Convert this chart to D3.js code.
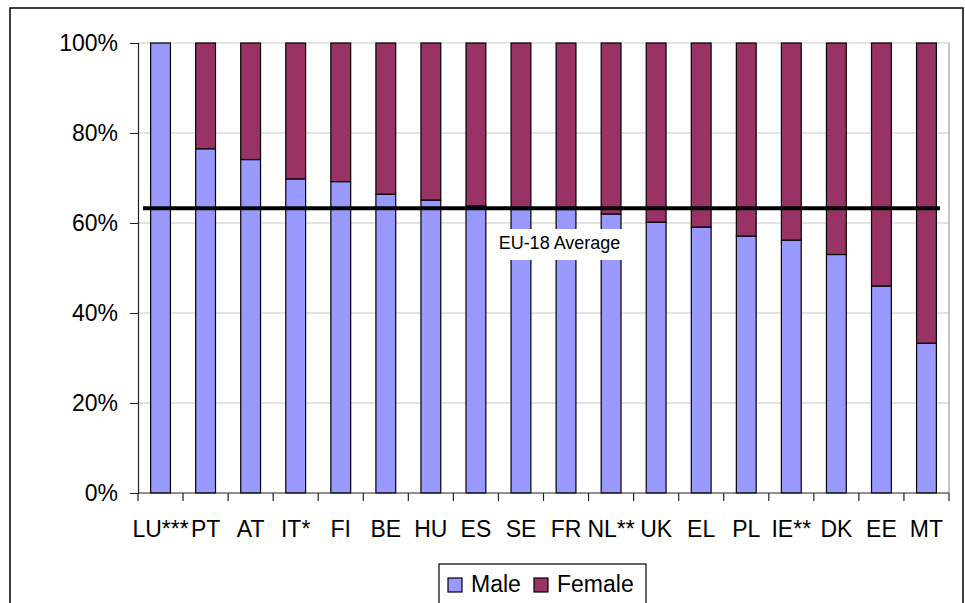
<!DOCTYPE html>
<html><head><meta charset="utf-8">
<script src="https://cdn.jsdelivr.net/npm/d3@7"></script>
<style>body{margin:0;background:#fff;}svg{display:block;font-family:Arial,"Liberation Sans",sans-serif;}</style>
</head><body>
<script>
const categories = ["LU***","PT","AT","IT*","FI","BE","HU","ES","SE","FR","NL**","UK","EL","PL","IE**","DK","EE","MT"];
const maleShare = [100,76.5,74.1,69.8,69.2,66.4,65.1,63.8,63.0,63.0,62.0,60.2,59.1,57.1,56.2,53.0,46.0,33.3];
const femaleShare = maleShare.map(v => 100 - v);
const yTicks = [0,20,40,60,80,100];
const euAverage = 63.3;
const seriesNames = ["Male","Female"];
const colors = {Male:"#9999FF", Female:"#993366"};

(function(){
const W = 965, H = 603;
const svg = d3.select("body").append("svg").attr("width",W).attr("height",H);
svg.append("rect").attr("x",10).attr("y",8).attr("width",953).attr("height",610)
  .attr("fill","#fff").attr("stroke","#000").attr("stroke-width",1.5);

const pL=138, pR=949, pT=43, pB=493;
const x = d3.scaleBand().domain(categories).range([pL,pR]).paddingInner(0.56).paddingOuter(0.28);
const xb = d3.scaleBand().domain(categories).range([pL,pR]);
const y = d3.scaleLinear().domain([0,100]).range([pB,pT]);

// gridlines
svg.append("g").selectAll("line").data(yTicks.filter(d=>d>0)).join("line")
  .attr("x1",pL).attr("x2",pR).attr("y1",d=>y(d)).attr("y2",d=>y(d))
  .attr("stroke","#c8c8c8").attr("stroke-width",1.2);
svg.append("line").attr("x1",pR).attr("x2",pR).attr("y1",pT).attr("y2",pB)
  .attr("stroke","#a0a0a0").attr("stroke-width",1.2);

// bars
const stackData = categories.map((c,i)=>({cat:c, Male:maleShare[i], Female:femaleShare[i]}));
const stack = d3.stack().keys(seriesNames)(stackData);
svg.append("g").selectAll("g").data(stack).join("g")
  .attr("fill",d=>colors[d.key])
  .selectAll("rect").data(d=>d.filter(p=>p[1]-p[0]>0)).join("rect")
  .attr("x",d=>x(d.data.cat)).attr("width",x.bandwidth())
  .attr("y",d=>y(d[1])).attr("height",d=>y(d[0])-y(d[1]))
  .attr("stroke","#000").attr("stroke-width",1.2);

// y axis
const yAxis = d3.axisLeft(y).tickValues(yTicks).tickFormat(d=>d+"%").tickSize(8).tickPadding(12);
const gy = svg.append("g").attr("transform",`translate(${pL},0)`).call(yAxis);
gy.select(".domain").attr("stroke","#222").attr("stroke-width",1.2);
gy.selectAll(".tick line").attr("stroke","#222");
gy.selectAll("text").attr("font-size",23).attr("fill","#000").attr("font-family","Arial, 'Liberation Sans', sans-serif");

// x axis
const gx = svg.append("g").attr("transform",`translate(0,${pB})`);
gx.append("line").attr("x1",pL).attr("x2",pR).attr("stroke","#222").attr("stroke-width",1.2);
gx.selectAll(".tk").data(d3.range(categories.length+1)).join("line").attr("class","tk")
  .attr("x1",i=>pL+i*xb.step()).attr("x2",i=>pL+i*xb.step()).attr("y1",0).attr("y2",8)
  .attr("stroke","#222").attr("stroke-width",1.2);
gx.selectAll("text").data(categories).join("text")
  .attr("x",d=>xb(d)+xb.bandwidth()/2).attr("y",44).attr("text-anchor","middle")
  .attr("font-size",23).attr("fill","#000").text(d=>d);

// average line
svg.append("line").attr("x1",143).attr("x2",940).attr("y1",y(euAverage)).attr("y2",y(euAverage))
  .attr("stroke","#000").attr("stroke-width",4);
svg.append("rect").attr("x",494).attr("y",229).attr("width",131).attr("height",31).attr("fill","#fff");
svg.append("text").attr("x",559.5).attr("y",249).attr("text-anchor","middle")
  .attr("font-size",18).attr("fill","#000").text("EU-18 Average");

// legend
const lg = svg.append("g");
lg.append("rect").attr("x",439).attr("y",564).attr("width",207).attr("height",50)
  .attr("fill","#fff").attr("stroke","#000").attr("stroke-width",1.2);
const legendX = [448,534], textX=[471,557];
seriesNames.forEach((s,i)=>{
  lg.append("rect").attr("x",legendX[i]).attr("y",578).attr("width",14).attr("height",14)
    .attr("fill",colors[s]).attr("stroke","#000").attr("stroke-width",1.2);
  lg.append("text").attr("x",textX[i]).attr("y",592).attr("font-size",23).attr("fill","#000").text(s);
});
})();
</script>
</body></html>
